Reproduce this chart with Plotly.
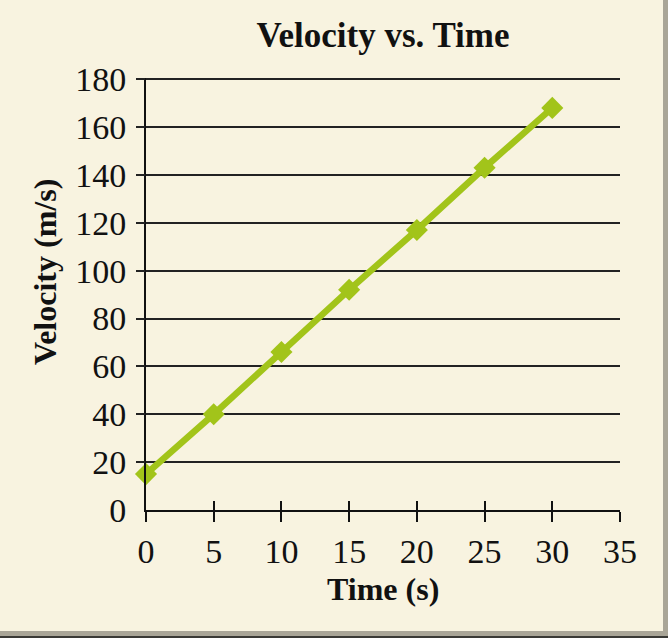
import plotly.graph_objects as go

time_s = [0, 5, 10, 15, 20, 25, 30]
velocity = [15, 40, 66, 92, 117, 143, 168]
x_ticks = [0, 5, 10, 15, 20, 25, 30, 35]
y_ticks = [0, 20, 40, 60, 80, 100, 120, 140, 160, 180]

W, H = 668, 638
L, R, T, B = 146, 48, 78, 128
pw, ph = W - L - R, H - T - B

def px2x(px):
    return (px - L) / pw

def py2y(py):
    return (H - B - py) / ph

BG = "#f8f3e0"
FONT = "Liberation Serif"
INK = "#111111"
Y_MAX = 180.5

fig = go.Figure()
fig.add_trace(go.Scatter(
    x=time_s, y=velocity, mode="lines+markers",
    line=dict(color="#a2c41a", width=6.5),
    marker=dict(symbol="diamond", size=17, color="#a2c41a"),
    cliponaxis=False, showlegend=False, hoverinfo="x+y",
))
# invisible trace for the overlay axes (crossing ticks)
fig.add_trace(go.Scatter(x=[0], y=[0], xaxis="x2", yaxis="y2",
                         mode="markers", marker=dict(opacity=0),
                         showlegend=False, hoverinfo="skip"))

fig.update_layout(
    width=W, height=H,
    margin=dict(l=L, r=R, t=T, b=B, pad=0),
    paper_bgcolor="#a9a597",
    plot_bgcolor=BG,
    font=dict(family=FONT, color=INK, size=34),
    title=dict(text="<b>Velocity vs. Time</b>", x=383 / W,
               xanchor="center", y=1 - 35 / H, yanchor="middle",
               font=dict(family=FONT, size=35, color=INK)),
    xaxis=dict(range=[0, 35], tickvals=x_ticks, ticks="outside", ticklen=10,
               tickwidth=2, tickcolor=INK, showline=True, linewidth=2,
               linecolor=INK, showgrid=False, zeroline=False,
               tickfont=dict(size=34, color=INK), fixedrange=True),
    xaxis2=dict(range=[0, 35], overlaying="x", anchor="y", tickvals=x_ticks,
                ticks="inside", ticklen=9, tickwidth=2, tickcolor=INK,
                showticklabels=False, showline=False, showgrid=False,
                zeroline=False, side="bottom"),
    yaxis=dict(range=[0, Y_MAX], tickvals=y_ticks, ticks="", showline=True,
               linewidth=2, linecolor=INK, showgrid=True,
               gridcolor="#222222", gridwidth=2, zeroline=False,
               tickfont=dict(size=34, color=INK), ticklabelstandoff=11,
               fixedrange=True),
    yaxis2=dict(range=[0, Y_MAX], overlaying="y", anchor="x",
                tickvals=y_ticks[1:], ticks="outside", ticklen=9, tickwidth=2,
                tickcolor="#222222", showticklabels=False, showline=False,
                showgrid=False, zeroline=False, side="left"),
    shapes=[
        dict(type="rect", xref="paper", yref="paper", layer="below",
             x0=px2x(0), x1=px2x(663), y0=py2y(0), y1=py2y(631),
             fillcolor=BG, line=dict(width=0)),
        dict(type="rect", xref="paper", yref="paper", layer="below",
             x0=px2x(0), x1=px2x(668), y0=py2y(636), y1=py2y(638),
             fillcolor="#3a3a36", line=dict(width=0)),
    ],
    annotations=[
        dict(text="<b>Velocity (m/s)</b>", xref="paper", yref="paper",
             x=px2x(45), y=py2y(272), textangle=-90, showarrow=False,
             xanchor="center", yanchor="middle",
             font=dict(family=FONT, size=32, color=INK)),
        dict(text="<b>Time (s)</b>", xref="paper", yref="paper",
             x=px2x(383), y=py2y(589), showarrow=False,
             xanchor="center", yanchor="middle",
             font=dict(family=FONT, size=32, color=INK)),
    ],
)

fig.write_html(
    "out.html",
    config={"displayModeBar": False},
    post_script="document.body.style.margin='0';"
                "document.body.style.overflow='hidden';",
)
